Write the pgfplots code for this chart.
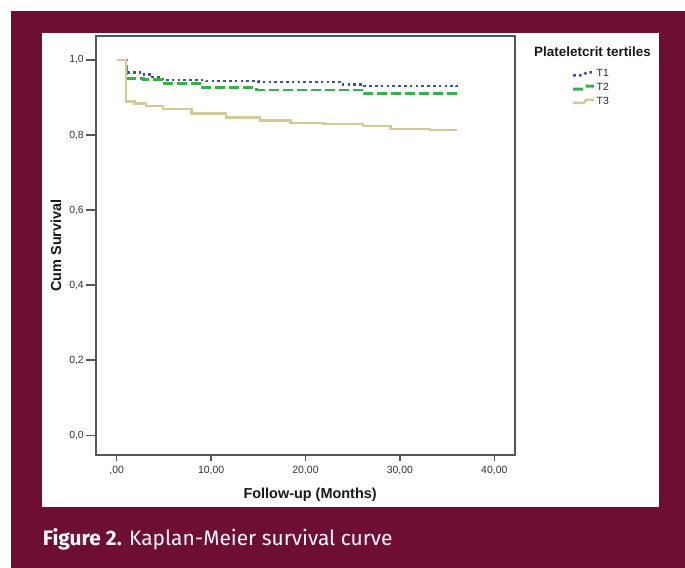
\documentclass[border=0pt]{standalone}
\usepackage{fontspec}
\setmainfont{Liberation Sans}
\newfontfamily\capfont{Fira Sans}
\usepackage{pgfplots}
\pgfplotsset{compat=1.18}
\definecolor{maroon}{RGB}{110,14,52}
\definecolor{tone}{RGB}{58,78,178}
\definecolor{ttwo}{RGB}{52,178,74}
\definecolor{tthree}{RGB}{212,202,152}
\definecolor{frame}{RGB}{85,85,85}
\begin{document}
\begin{tikzpicture}[x=1bp,y=1bp]
\useasboundingbox (0,0) rectangle (685,568);
\fill[white] (0,0) rectangle (685,568);
\fill[maroon] (11,0) rectangle (685,557);
\fill[white] (42,61) rectangle (659,535);
\begin{axis}[
  at={(96bp,113bp)}, anchor=south west,
  scale only axis, width=419bp, height=419bp,
  xmin=-2.19, xmax=42.19, ymin=-0.053, ymax=1.064,
  xtick={0,10,20,30,40},
  xticklabels={{,00},{10,00},{20,00},{30,00},{40,00}},
  ytick={0,0.2,0.4,0.6,0.8,1.0},
  yticklabels={{0,0},{0,2},{0,4},{0,6},{0,8},{1,0}},
  xtick pos=bottom, ytick pos=left,
  tick align=outside,
  major tick length=6bp,
  axis line style={frame, line width=1.2bp},
  xtick style={frame, line width=1.2bp},
  ytick style={frame, line width=1.2bp, /pgfplots/major tick length=10bp},
  tick label style={font=\fontsize{10.5}{12}\selectfont, text=black!80},
  xticklabel style={yshift=-2bp},
  yticklabel style={inner sep=2bp, xshift=-4bp},
  xlabel={Follow-up (Months)},
  xlabel style={font=\bfseries\fontsize{14.5}{16}\selectfont, text=black!90, at={(axis description cs:0.511,-0.0955)}, anchor=center},
  ylabel={Cum Survival},
  ylabel style={font=\bfseries\fontsize{14.5}{16}\selectfont, text=black!90, at={(axis description cs:-0.0955,0.5)}, anchor=center},
  legend style={at={(axis description cs:1.128,0.9275)}, anchor=north west, draw=none, fill=none,
    font=\fontsize{10.5}{12}\selectfont, row sep=3bp, nodes={inner sep=1bp}, text=black!85},
  legend cell align=left,
  legend image code/.code={\draw[#1] (0bp,-1.5bp) -- (10bp,-1.5bp) -- (13bp,1.5bp) -- (21bp,1.5bp);},
]
\addplot[const plot, tone, line width=2.4bp, dash pattern=on 2.6bp off 3.2bp] coordinates {
(0,1.0) (1.0,0.967) (2.5,0.961) (3.8,0.954) (4.9,0.946) (9.5,0.944) (15,0.941) (24,0.935) (26.1,0.931) (36,0.930)};
\addlegendentry{T1}
\addplot[const plot, ttwo, line width=2.8bp, dash pattern=on 10bp off 4bp] coordinates {
(0,1.0) (1.0,0.951) (2.8,0.947) (4.9,0.938) (8.8,0.926) (14.8,0.920) (26.2,0.911) (36,0.911)};
\addlegendentry{T2}
\addplot[const plot, tthree, line width=2.6bp] coordinates {
(0,1.0) (1.0,0.889) (1.9,0.884) (3.1,0.877) (4.9,0.869) (7.9,0.858) (11.6,0.847) (15.2,0.838) (18.4,0.832) (21.9,0.829) (26.1,0.824) (29.0,0.816) (33.2,0.813) (36,0.813)};
\addlegendentry{T3}
\end{axis}
\node[font=\bfseries\fontsize{13.5}{15}\selectfont, text=black!90, anchor=center, inner sep=0] at (592.5,516.3) {Plateletcrit tertiles};
\node[anchor=base west, text=white, font=\capfont\fontsize{21}{25}\selectfont, inner sep=0] at (42.7,22.3) {\textbf{Figure 2.} Kaplan-Meier survival curve};
\end{tikzpicture}
\end{document}
